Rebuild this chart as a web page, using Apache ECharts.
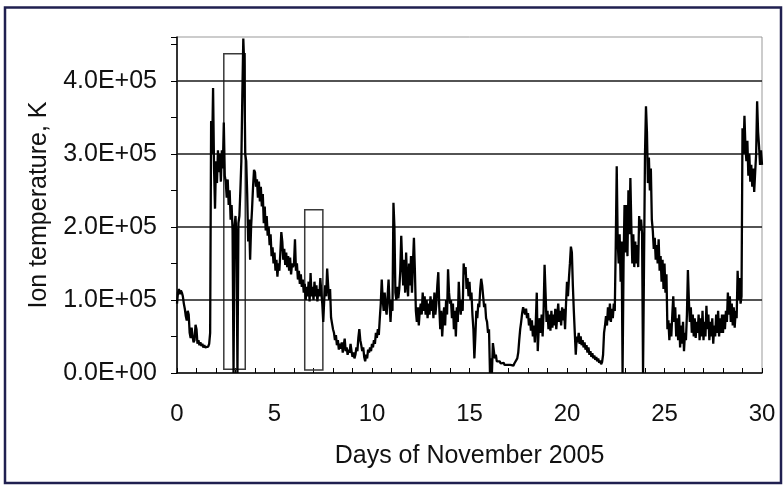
<!DOCTYPE html>
<html><head><meta charset="utf-8">
<script src="https://cdn.jsdelivr.net/npm/echarts@6/dist/echarts.min.js"></script>
<style>html,body{margin:0;padding:0;background:#fff}#c{width:784px;height:485px}</style>
</head><body><div id="c"></div>
<script>
// Sampling grid of the time series (days of November 2005)
const sampleStartDay = 0;
const sampleStepDays = 0.05;
// Ion temperature, in thousands of K, one value per 0.05 day (20 per row = 1 day)
const ionTempKK = [
 95,110,115,108,113,110,105,95,88,78,72,85,80,55,48,62,50,42,45,66,
 60,40,45,38,42,37,40,35,38,35,37,34,36,40,55,345,300,390,280,225,
 290,260,305,275,300,262,305,280,343,270,262,240,265,230,250,210,230,195,0,200,
 215,185,0,205,215,250,290,380,458,420,300,290,245,180,210,155,200,225,255,278,
 275,255,265,240,262,235,255,228,245,205,228,195,215,188,200,175,190,160,172,150,
 165,140,155,132,150,140,165,193,180,155,170,148,165,145,160,140,158,135,150,145,
 150,183,140,150,128,140,122,135,118,128,110,122,100,118,105,125,98,137,105,118,
 100,125,105,120,98,115,105,130,110,95,70,100,120,105,143,120,100,115,76,68,
 60,55,45,52,38,45,32,40,33,42,28,38,47,30,35,25,32,28,40,30,
 22,28,20,25,35,30,48,60,45,38,30,35,22,16,25,20,32,28,35,30,
 40,35,45,40,55,48,60,52,75,95,128,100,85,110,90,80,105,128,95,70,
 100,85,233,200,110,100,118,102,115,140,188,150,120,155,110,165,125,105,150,120,
 160,110,150,185,140,85,70,90,65,85,95,80,110,85,105,80,100,75,95,80,
 105,85,100,75,110,80,95,120,138,90,60,85,50,75,90,65,100,80,142,110,
 95,100,75,95,60,85,50,90,70,125,95,80,100,85,150,135,145,115,130,105,
 125,100,110,80,60,20,50,85,75,95,90,115,129,120,105,90,95,75,70,55,
 60,0,20,0,41,30,20,25,16,18,14,16,13,15,12,14,11,13,12,11,
 10,12,11,10,12,10,13,12,15,20,28,45,60,70,82,90,85,80,88,75,
 82,65,75,58,72,50,65,42,70,110,30,60,75,55,80,50,85,148,110,70,
 85,60,80,58,85,62,80,65,88,60,78,95,70,85,65,90,72,88,60,95,
 125,105,130,150,173,165,120,85,55,25,50,42,55,40,50,38,45,35,42,32,
 38,28,35,25,30,22,27,20,24,18,22,16,20,14,17,12,15,25,55,65,
 78,65,90,72,95,70,88,75,95,85,175,283,180,150,190,125,180,0,150,230,
 165,230,160,250,190,267,200,150,190,145,180,150,175,145,215,195,210,190,0,150,
 300,365,330,260,295,250,280,210,195,170,185,155,175,150,183,140,160,125,155,115,
 150,110,135,60,72,45,68,50,80,105,70,90,50,75,45,80,35,65,40,70,
 30,55,45,80,141,100,70,90,55,80,50,75,48,70,55,80,45,75,50,85,
 45,70,50,92,60,80,45,70,50,75,40,65,50,80,55,85,50,75,55,80,
 55,80,60,85,70,110,80,105,70,95,65,90,62,85,75,140,100,130,95,105,
 335,300,352,310,290,318,270,300,262,285,255,280,248,275,300,372,330,310,285,305,
 285
];
// Highlighted intervals: start/end day and low/high temperature (K)
const boxDayStart = [2.4, 6.55];
const boxDayEnd   = [3.5, 7.48];
const boxTempLow  = [5000, 4000];
const boxTempHigh = [437000, 223500];
// Axis ticks
const xMin = 0, xMax = 30, xLabelStep = 5;
const yMin = 0, yMax = 460000;
const yGridValues = [100000, 200000, 300000, 400000];

const FONT = '"Liberation Sans", Arial, sans-serif';
function sci(v){
  if (v === 0) return '0.0E+00';
  const e = Math.floor(Math.log10(Math.abs(v)));
  const m = v / Math.pow(10, e);
  return m.toFixed(1) + 'E' + (e < 0 ? '-' : '+') + String(Math.abs(e)).padStart(2,'0');
}

const seriesData = ionTempKK.map((v,i)=>[sampleStartDay + Math.round(i*sampleStepDays*100)/100, v*1000]);

const chart = echarts.init(document.getElementById('c'), null, {renderer:'canvas'});
chart.setOption({
  animation:false,
  backgroundColor:'#ffffff',
  graphic:[{type:'rect', silent:true, z:100,
    shape:{x:5, y:7.5, width:776, height:475.5},
    style:{fill:'none', stroke:'#202050', lineWidth:2.5}}],
  grid:{left:177, top:37, width:585, height:336, show:true, borderColor:'#999', borderWidth:1, backgroundColor:'transparent'},
  xAxis:{type:'value', min:xMin, max:xMax, interval:1,
    name:'Days of November 2005', nameLocation:'middle', nameGap:71,
    nameTextStyle:{fontSize:25, color:'#111', fontFamily:FONT},
    axisLine:{onZero:false, lineStyle:{color:'#000', width:1.5}},
    axisTick:{inside:true, length:5, lineStyle:{color:'#000', width:1}},
    axisLabel:{margin:29, fontSize:24, color:'#111', fontFamily:FONT,
      formatter:v=> (Math.round(v)%xLabelStep===0 ? String(Math.round(v)) : '')},
    splitLine:{show:false}},
  yAxis:{type:'value', min:yMin, max:yMax, interval:50000,
    name:'Ion temperature, K', nameLocation:'middle', nameGap:125,
    nameTextStyle:{fontSize:25, color:'#111', fontFamily:FONT},
    axisLine:{lineStyle:{color:'#000', width:1.5}},
    axisTick:{inside:false, length:6, lineStyle:{color:'#000', width:1}},
    axisLabel:{margin:20, fontSize:25, color:'#111', fontFamily:FONT,
      formatter:v=> (v%100000===0 ? sci(v) : '')},
    splitLine:{show:false}},
  series:[{
    type:'line', data:seriesData, symbol:'none', clip:true,
    lineStyle:{color:'#000', width:2.3}, z:5,
    markLine:{silent:true, symbol:['none','none'], label:{show:false},
      lineStyle:{color:'#1a1a1a', width:1.5, type:'solid'},
      data:yGridValues.map(v=>({yAxis:v}))},
    markArea:{silent:true, label:{show:false},
      itemStyle:{color:'rgba(0,0,0,0)', borderColor:'#3a3a3a', borderWidth:1.5},
      data:boxDayStart.map((d,i)=>[{xAxis:d, yAxis:boxTempLow[i]},{xAxis:boxDayEnd[i], yAxis:boxTempHigh[i]}])}
  }]
});
</script></body></html>
